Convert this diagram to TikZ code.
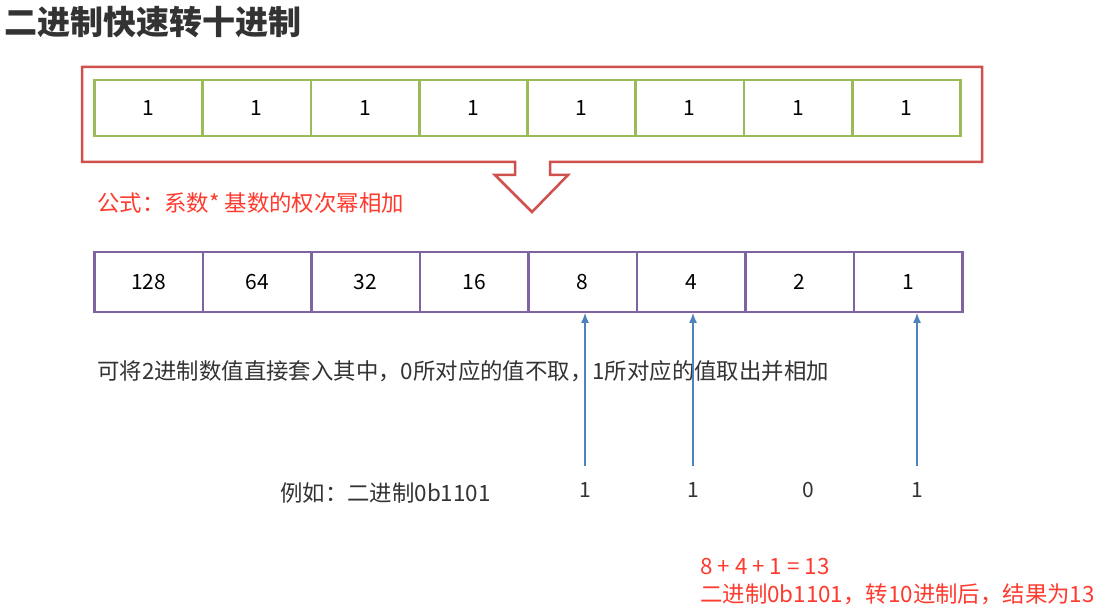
\documentclass[tikz,border=0pt]{standalone}
\usepackage{fontspec}
\usetikzlibrary{arrows.meta}
\setmainfont{Noto Sans CJK SC}
\definecolor{gbox}{HTML}{9BBB59}
\definecolor{pbox}{HTML}{8064A2}
\definecolor{rbox}{HTML}{D0504D}
\definecolor{rtxt}{HTML}{FF3A2E}
\definecolor{barr}{HTML}{4F81BD}
\begin{document}
\begin{tikzpicture}[x=1pt,y=-1pt,
  gcell/.style={draw=gbox, line width=2.5pt, minimum width=108pt, minimum height=56pt, inner sep=0, font=\fontsize{21}{21}\selectfont},
  pcell/.style={draw=pbox, line width=2.5pt, minimum width=108.5pt, minimum height=60pt, inner sep=0, font=\fontsize{21}{21}\selectfont},
  txt/.style={anchor=west, inner sep=0, font=\fontsize{22.4}{22.4}\selectfont},
  redt/.style={txt, text=rtxt},
  dig/.style={font=\fontsize{21}{21}\selectfont, text=black!80},
  blu/.style={draw=barr, line width=1.2pt, -{Latex[length=10pt,width=8pt]}}]
\useasboundingbox[fill=white] (0,0) rectangle (1109,612);
\node[anchor=west, inner sep=0, font=\fontsize{33}{33}\selectfont\bfseries, text=black!80] (title) at (4,22) {二进制快速转十进制};
\draw[rbox, line width=2.5pt, line join=miter] (82,67) -- (982,67) -- (982,162) -- (550,162) -- (550,175) -- (568,175) -- (532,212) -- (495,175) -- (515,175) -- (515,162) -- (82,162) -- cycle;
\foreach \i in {0,...,7} {
  \node[gcell] (g\i) at (148.5+\i*108.25,108) {1};
}
\foreach \v [count=\i from 0] in {128,64,32,16,8,4,2,1} {
  \node[pcell] (p\i) at (148.5+\i*108.5,282) {\v};
}
\node[redt] (formula) at (97,203) {公式：系数* 基数的权次幂相加};
\node[txt, text=black!80] (desc) at (97,371) {可将2进制数值直接套入其中，0所对应的值不取，1所对应的值取出并相加};
\node[txt, text=black!80] (ex) at (280,493) {例如：二进制0b1101};
\node[dig] (d1) at (585,490) {1};
\node[dig] (d2) at (693,490) {1};
\node[dig] (d3) at (808,490) {0};
\node[dig] (d4) at (917,490) {1};
\coordinate (a1) at (585,466); \coordinate (b1) at (585,313);
\coordinate (a2) at (693,466); \coordinate (b2) at (693,313);
\coordinate (a4) at (917,466); \coordinate (b4) at (917,313);
\draw[blu] (a1) -- (b1);
\draw[blu] (a2) -- (b2);
\draw[blu] (a4) -- (b4);
\node[redt] (sum) at (700,567) {8 + 4 + 1 = 13};
\node[redt] (res) at (700,594) {二进制0b1101，转10进制后，结果为13};
\end{tikzpicture}
\end{document}
